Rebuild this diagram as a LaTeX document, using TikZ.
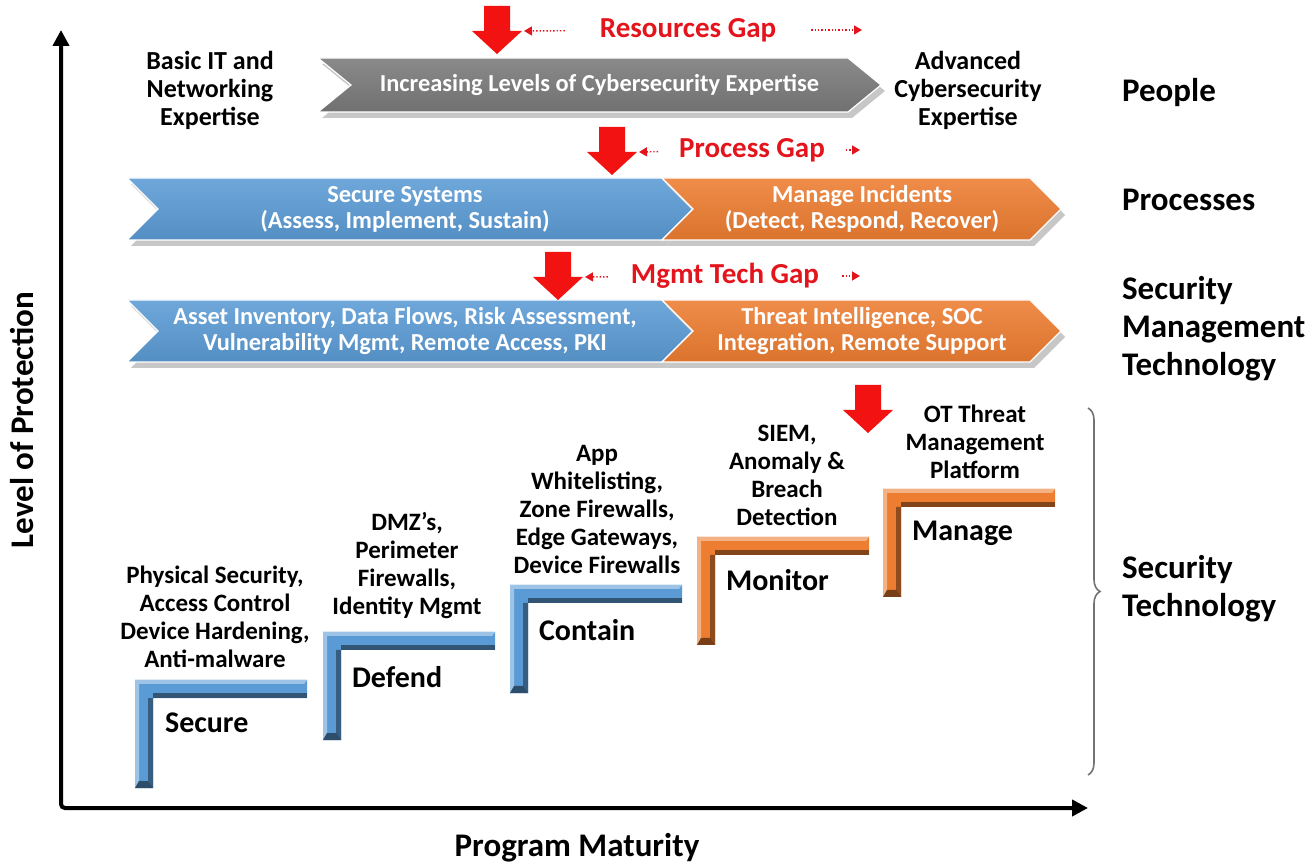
\documentclass[tikz,border=0pt]{standalone}
\usepackage{fontspec}
\setmainfont{Carlito}
\usetikzlibrary{arrows.meta,positioning,calc,decorations.pathreplacing}
\definecolor{ChevGray}{HTML}{7A7A7A}
\definecolor{SecBlue}{HTML}{5B9BD5}
\definecolor{SecOrange}{HTML}{ED7D31}
\definecolor{GapRed}{HTML}{E3141C}
\definecolor{ArrowRed}{HTML}{F21212}

% chevron band: name, left x, flat right x, top y, bottom y, depth, colour
\newcommand{\chevband}[7]{%
  \fill[black!22] ({#2+4},{#4+6}) -- ({#3+4},{#4+6}) -- ({#3+#6+4},{(#4+#5)/2+6}) -- ({#3+4},{#5+6})
    -- ({#2+4},{#5+6}) -- ({#2+#6+4},{(#4+#5)/2+6}) -- cycle;
  \shade[top color=#7!88!white, bottom color=#7!92!black, draw=white, line width=0.6pt]
    (#2,#4) -- (#3,#4) -- ({#3+#6},{(#4+#5)/2}) -- (#3,#5) -- (#2,#5) -- ({#2+#6},{(#4+#5)/2}) -- cycle;
  \coordinate (#1) at ({(#2+#3)/2+#6/2},{(#4+#5)/2});}

% stair step: name, corner x, corner y, colour
\newcommand{\stair}[4]{%
  \fill[#4] (#2,#3) -- ({#2+172},#3) -- ({#2+172},{#3+18}) -- ({#2+18},{#3+18}) -- ({#2+18},{#3+108}) -- (#2,{#3+108}) -- cycle;
  \fill[#4!55!black] ({#2+18},{#3+13}) -- ({#2+172},{#3+13}) -- ({#2+172},{#3+18}) -- ({#2+18},{#3+18}) -- cycle;
  \fill[#4!60!black] ({#2+13},{#3+18}) -- ({#2+18},{#3+18}) -- ({#2+18},{#3+108}) -- ({#2+13},{#3+104}) -- cycle;
  \fill[#4!60!white] (#2,#3) -- ({#2+172},#3) -- ({#2+169},{#3+4}) -- ({#2+4},{#3+4}) -- ({#2+4},{#3+104}) -- (#2,{#3+108}) -- cycle;
  \fill[#4!50!black] (#2,{#3+108}) -- ({#2+18},{#3+108}) -- ({#2+13},{#3+101}) -- ({#2+4},{#3+101}) -- cycle;
  \coordinate (#1) at (#2,#3);}

% red block arrow: name, centre x, top y
\newcommand{\gapdrop}[3]{%
  \fill[ArrowRed] ({#2-13},#3) -- ({#2+13},#3) -- ({#2+13},{#3+25}) -- ({#2+25},{#3+25}) -- (#2,{#3+48})
    -- ({#2-25},{#3+25}) -- ({#2-13},{#3+25}) -- cycle;
  \coordinate (#1) at ({#2+27},{#3+25});}

\begin{document}
\begin{tikzpicture}[x=0.5pt, y=-0.5pt,
    sidelabel/.style={anchor=west, align=left, font=\bfseries\fontsize{16.5}{19}\selectfont},
    expertise/.style={align=center, font=\bfseries\fontsize{13}{14}\selectfont},
    chevtext/.style={align=center, text=white, font=\bfseries\fontsize{12.2}{13}\selectfont},
    stepdesc/.style={align=center, font=\bfseries\fontsize{12.5}{14}\selectfont},
    stepname/.style={anchor=west, font=\bfseries\fontsize{15}{18}\selectfont},
    gaplabel/.style={text=GapRed, font=\bfseries\fontsize{14.5}{17}\selectfont},
    gaplink/.style={draw=GapRed, densely dotted, line width=0.7pt, -{Triangle[length=4pt,width=4.5pt]}},
    axisline/.style={line width=2pt, rounded corners=2pt, {Triangle[length=8pt,width=8pt]}-{Triangle[length=8pt,width=8pt]}},
    axislabel/.style={font=\bfseries\fontsize{16.5}{19}\selectfont}
  ]
  \useasboundingbox (0,0) rectangle (1312,865);
  \fill[white] (0,0) rectangle (1312,865);

  % axes
  \coordinate (ytip) at (61,30);
  \coordinate (xtip) at (1088,808);
  \draw[axisline] (ytip) |- (xtip);
  \node[axislabel, rotate=90] (ylab) at (22,420) {Level of Protection};
  \node[axislabel] (xlab) at (577,848) {Program Maturity};

  % people
  \chevband{people}{318}{848}{58}{112}{33}{ChevGray}
  \node[chevtext] (peopletxt) at (people) {Increasing Levels of Cybersecurity Expertise};
  \node[expertise] (basic) at (210,90) {Basic IT and\\Networking\\Expertise};
  \node[expertise] (advanced) at (968,90) {Advanced\\Cybersecurity\\Expertise};
  \node[sidelabel] (peoplelab) at (1115,93) {People};
  \gapdrop{rg}{497}{6}
  \node[gaplabel] (resgap) at (688,30) {Resources Gap};
  \coordinate (rgend) at (862,30);
  \draw[gaplink, shorten <=14pt] (resgap) -- (rg);
  \draw[gaplink, shorten <=14pt] (resgap) -- (rgend);

  % processes
  \chevband{secsys}{127}{662}{178}{240}{31}{SecBlue}
  \chevband{incid}{662}{1030}{178}{240}{31}{SecOrange}
  \node[chevtext] (secsystxt) at (405,209) {Secure Systems\\(Assess, Implement, Sustain)};
  \node[chevtext] (incidtxt) at (862,209) {Manage Incidents\\(Detect, Respond, Recover)};
  \node[sidelabel] (proclab) at (1115,200) {Processes};
  \gapdrop{pg}{612}{127}
  \node[gaplabel] (procgap) at (752,150) {Process Gap};
  \coordinate (pgend) at (860,150);
  \draw[gaplink, shorten <=7pt] (procgap) -- (pg);
  \draw[gaplink, shorten <=7pt] (procgap) -- (pgend);

  % security management technology
  \chevband{assets}{127}{662}{300}{362}{31}{SecBlue}
  \chevband{threat}{662}{1030}{300}{362}{31}{SecOrange}
  \node[chevtext] (assetstxt) at (405,331) {Asset Inventory, Data Flows, Risk Assessment,\\Vulnerability Mgmt, Remote Access, PKI};
  \node[chevtext] (threattxt) at (862,331) {Threat Intelligence, SOC\\Integration, Remote Support};
  \node[sidelabel] (mgmtlab) at (1115,329) {Security\\Management\\Technology};
  \gapdrop{mg}{558}{252}
  \node[gaplabel] (mgmtgap) at (725,276) {Mgmt Tech Gap};
  \coordinate (mgend) at (860,276);
  \draw[gaplink, shorten <=8pt] (mgmtgap) -- (mg);
  \draw[gaplink, shorten <=8pt] (mgmtgap) -- (mgend);

  % security technology steps
  \stair{secure}{135}{680}{SecBlue}
  \stair{defend}{323}{632}{SecBlue}
  \stair{contain}{510}{585}{SecBlue}
  \stair{monitor}{697}{537}{SecOrange}
  \stair{manage}{883}{489}{SecOrange}
  \node[stepname] (securelab) at (158,723) {Secure};
  \node[stepname] (defendlab) at (345,677) {Defend};
  \node[stepname] (containlab) at (532,630) {Contain};
  \node[stepname] (monitorlab) at (719,580) {Monitor};
  \node[stepname] (managelab) at (905,533) {Manage};
  \node[stepdesc] (securetxt) at (215,617) {Physical Security,\\Access Control\\Device Hardening,\\Anti-malware};
  \node[stepdesc] (defendtxt) at (407,566) {DMZ's,\\Perimeter\\Firewalls,\\Identity Mgmt};
  \node[stepdesc] (containtxt) at (597,509) {App\\Whitelisting,\\Zone Firewalls,\\Edge Gateways,\\Device Firewalls};
  \node[stepdesc] (monitortxt) at (787,475) {SIEM,\\Anomaly \&\\Breach\\Detection};
  \node[stepdesc] (managetxt) at (975,442) {OT Threat\\Management\\Platform};
  \gapdrop{tg}{868}{385}
  \draw[black!55, line width=0.8pt, decorate, decoration={brace, amplitude=6pt}] (1088,408) -- (1088,775);
  \node[sidelabel] (techlab) at (1115,589) {Security\\Technology};
\end{tikzpicture}
\end{document}
